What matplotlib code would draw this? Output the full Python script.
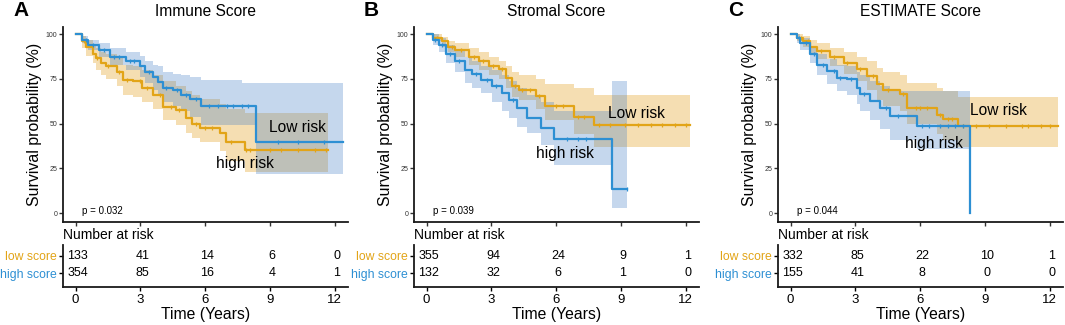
import numpy as np
import matplotlib
matplotlib.use("Agg")
import matplotlib.pyplot as plt

plt.rcParams['font.family'] = ['Liberation Sans', 'DejaVu Sans']

# ---- data ----
titles = ['Immune Score', 'Stromal Score', 'ESTIMATE Score']
letters = ['A', 'B', 'C']
p_values = ['p = 0.032', 'p = 0.039', 'p = 0.044']
risk_times = [0, 3, 6, 9, 12]
row_names = ['low score', 'high score']

# panel A
a_org_t = [0, 0.3, 0.5, 0.8, 0.96, 1.2, 1.4, 1.9, 2.2, 2.66, 3.1, 3.6, 4.05, 4.66, 5.1, 5.4, 5.75, 6.67, 6.98, 7.83]
a_org_s = [100, 96, 93, 89, 86.6, 84, 82, 79, 74.5, 73.6, 70, 66, 59.6, 57.7, 53, 50, 47.5, 44.7, 39.5, 35.4]
a_org_hi = [100, 99, 97, 94, 92, 90, 89, 87, 83, 82, 80, 77, 74, 71, 68, 66, 64, 61, 58, 56]
a_org_lo = [100, 92, 88, 84, 80, 77, 75, 71, 66, 65, 62, 58, 52, 49, 45, 42, 40, 35, 29, 23]
a_org_end = 11.7
a_org_cens = [0.4, 1.0, 1.5, 2.0, 2.4, 3.0, 3.3, 3.9, 4.4, 4.8, 5.6, 6.0, 6.3, 7.2, 7.9, 8.1, 9.0, 9.5, 10.3, 11.1, 11.6]

a_blu_t = [0, 0.3, 0.6, 1.1, 1.6, 2.35, 2.97, 3.2, 3.58, 3.8, 4.05, 4.5, 4.9, 5.3, 5.8, 7.7, 8.34]
a_blu_s = [100, 97, 94, 91, 87.5, 85, 82, 79, 76, 73.5, 70, 69, 66, 64, 60, 60, 40]
a_blu_hi = [100, 99, 97, 95, 92, 90, 88, 85, 83, 82, 79, 78, 77, 76, 74.5, 73, 73]
a_blu_lo = [100, 95, 91, 87, 83, 80, 76, 73, 69, 66, 62, 60, 57, 54, 49, 49, 22]
a_blu_end = 12.4
a_blu_cens = [0.5, 0.8, 1.3, 1.8, 2.0, 2.5, 2.7, 3.4, 4.2, 4.7, 5.1, 5.6, 6.2, 6.6, 7.0, 7.3, 7.7, 8.0, 9.4, 10.3, 11.5]

a_low_risk = [133, 41, 14, 6, 0]
a_high_risk = [354, 85, 16, 4, 1]

# panel B
b_org_t = [0, 0.3, 0.73, 1.0, 1.34, 1.96, 2.42, 2.9, 3.35, 3.66, 3.97, 4.28, 5.05, 5.5, 6.83, 7.75]
b_org_s = [100, 98, 96, 93, 91, 87.5, 85, 82, 80.4, 75.4, 71, 69, 65.7, 60, 54, 49]
b_org_hi = [100, 100, 98.5, 96, 95, 92, 90, 87, 85, 82, 79, 77, 75, 72, 70, 66]
b_org_lo = [100, 96, 93, 90, 87, 83, 80, 77, 75, 70, 65, 63, 58, 52, 44, 37]
b_org_end = 12.2
b_org_cens = [0.5, 1.2, 1.6, 2.2, 2.6, 3.1, 3.5, 4.1, 4.4, 4.8, 5.2, 6.0, 6.3, 7.0, 7.3, 8.0, 8.5, 9.2, 9.8, 10.4, 10.9, 11.5, 12.0]

b_blu_t = [0, 0.3, 0.57, 0.88, 1.34, 1.8, 2.1, 2.5, 3.04, 3.5, 3.8, 4.2, 4.67, 5.3, 5.9, 8.6]
b_blu_s = [100, 97, 94, 89, 85, 80, 77.6, 74.5, 70.8, 67, 63.3, 58.7, 53, 47.5, 41.3, 13.4]
b_blu_hi = [100, 100, 98, 94, 91, 87, 85, 82, 80, 77, 74, 70, 66, 62, 57, 74]
b_blu_lo = [100, 94, 90, 84, 79, 73, 70, 67, 62, 57, 53, 48, 45, 38, 27, 3]
b_blu_end = 9.3
b_blu_cens = [0.4, 0.7, 1.1, 1.5, 2.3, 2.8, 3.2, 4.0, 6.5, 7.0, 7.4, 9.3]

b_low_risk = [355, 94, 24, 9, 1]
b_high_risk = [132, 32, 6, 1, 0]

# panel C
c_org_t = [0, 0.3, 0.6, 0.9, 1.23, 1.85, 2.46, 3.08, 3.54, 4.0, 4.3, 5.07, 5.38, 6.77, 7.08, 7.77]
c_org_s = [100, 98, 96, 93, 90.7, 87, 84, 80.4, 76.7, 72, 69, 66.4, 59, 55, 52.4, 48.7]
c_org_hi = [100, 100, 99, 97, 95, 92, 90, 87, 85, 81, 79, 77, 73, 70, 68, 65]
c_org_lo = [100, 96, 93, 89, 86, 82, 78, 74, 69, 63, 60, 57, 50, 44, 41, 37]
c_org_end = 12.4
c_org_cens = [0.5, 0.8, 1.4, 2.0, 2.6, 3.2, 3.8, 4.5, 5.2, 5.8, 6.0, 6.3, 6.9, 7.3, 7.5, 8.0, 8.6, 9.2, 10.0, 10.7, 11.0, 11.6, 12.0]

c_blu_t = [0, 0.3, 0.46, 0.92, 1.23, 1.7, 2.15, 2.6, 3.08, 3.23, 3.7, 4.15, 4.6, 5.85, 8.3]
c_blu_s = [100, 98, 95, 89, 83, 79.5, 75.7, 74.8, 70, 66.4, 62.7, 59, 54.3, 48.7, 0]
c_blu_hi = [100, 100, 98, 93, 89, 86, 83, 82, 79, 77, 74, 71, 68, 68, 0]
c_blu_lo = [100, 95, 91, 84, 77, 72, 68, 66, 61, 57, 52, 47, 41, 36, 0]
c_blu_end = 8.3
c_blu_cens = [0.4, 0.7, 1.1, 1.5, 2.0, 2.3, 2.8, 3.4, 4.4, 5.0, 6.1, 6.4, 6.9, 7.3, 7.6, 8.0]

c_low_risk = [332, 85, 22, 10, 1]
c_high_risk = [155, 41, 8, 0, 0]

# label positions (data coords) for the curve labels
low_lbl = [(10.3, 48), (9.7, 55.5), (9.65, 57.5)]
high_lbl = [(7.85, 28), (6.4, 33.5), (6.65, 38.8)]

panels = [
    ((a_org_t, a_org_s, a_org_hi, a_org_lo, a_org_end, a_org_cens),
     (a_blu_t, a_blu_s, a_blu_hi, a_blu_lo, a_blu_end, a_blu_cens),
     a_low_risk, a_high_risk),
    ((b_org_t, b_org_s, b_org_hi, b_org_lo, b_org_end, b_org_cens),
     (b_blu_t, b_blu_s, b_blu_hi, b_blu_lo, b_blu_end, b_blu_cens),
     b_low_risk, b_high_risk),
    ((c_org_t, c_org_s, c_org_hi, c_org_lo, c_org_end, c_org_cens),
     (c_blu_t, c_blu_s, c_blu_hi, c_blu_lo, c_blu_end, c_blu_cens),
     c_low_risk, c_high_risk),
]

ORANGE = '#E2A417'
BLUE = '#2D8FD3'
ORANGE_FILL = '#DE9402'
BLUE_FILL = '#417DC6'
SPINE = '#1a1a1a'

W, H = 1065, 325
fig = plt.figure(figsize=(W / 100, H / 100), dpi=100)


def px_rect(left, top, right, bottom):
    return [left / W, 1 - bottom / H, (right - left) / W, (bottom - top) / H]


def draw_curve(ax, curve, color, fill):
    t, s, hi, lo, end, cens = curve
    tt = list(t) + [end]
    ss = list(s) + [s[-1]]
    hh = list(hi) + [hi[-1]]
    ll = list(lo) + [lo[-1]]
    ax.fill_between(tt, ll, hh, step='post', color=fill, alpha=0.3, lw=0)
    ax.step(tt, ss, where='post', color=color, lw=1.6)
    idx = np.searchsorted(t, cens, side='right') - 1
    ax.plot(cens, np.array(s)[idx], ls='none', marker='|', ms=3.5, mew=0.9, color=color)


lefts = [63, 414, 778]
for i, (org, blu, low_r, high_r) in enumerate(panels):
    L = lefts[i]
    ax = fig.add_axes(px_rect(L, 27, L + 285, 222))
    draw_curve(ax, org, ORANGE, ORANGE_FILL)
    draw_curve(ax, blu, BLUE, BLUE_FILL)
    ax.set_xlim(-0.58, 12.62)
    ax.set_ylim(-4.9, 104)
    ax.set_xticks(risk_times)
    ax.set_xticklabels([])
    ax.set_yticks([0, 25, 50, 75, 100])
    ax.tick_params(axis='y', labelsize=5, length=3, width=1, colors='#333333', pad=1)
    ax.tick_params(axis='x', length=3, width=1, colors='#333333')
    for sp in ['top', 'right']:
        ax.spines[sp].set_visible(False)
    for sp in ['left', 'bottom']:
        ax.spines[sp].set_color(SPINE)
        ax.spines[sp].set_linewidth(1.3)
    ax.set_ylabel('Survival probability (%)', fontsize=11.4)
    ax.yaxis.set_label_coords(-0.074, 0.5)
    ax.text(0.3, 1, p_values[i], fontsize=7, va='center', ha='left')
    ax.text(*low_lbl[i], 'Low risk', fontsize=11.2, ha='center', va='center')
    ax.text(*high_lbl[i], 'high risk', fontsize=11.2, ha='center', va='center')
    ax.set_title(titles[i], fontsize=11.2, pad=8)
    fig.text((L - 50) / W, 1 - 11 / H, letters[i], fontsize=15, fontweight='bold',
             ha='left', va='center')

    # risk table
    tb = fig.add_axes(px_rect(L, 245, L + 285, 287))
    tb.set_xlim(-0.58, 12.62)
    tb.set_ylim(0, 1)
    rows_y = [0.745, 0.333]
    for yv, vals in zip(rows_y, [low_r, high_r]):
        for xv, n in zip(risk_times, vals):
            tb.text(xv + 0.09, yv, str(n), fontsize=9, ha='center', va='center')
    tb.set_yticks(rows_y)
    tb.set_yticklabels(row_names, fontsize=8.8)
    for lab, col in zip(tb.get_yticklabels(), [ORANGE, BLUE]):
        lab.set_color(col)
    tb.set_xticks(risk_times)
    tb.tick_params(axis='x', labelsize=9.5, length=3, width=1, pad=2)
    tb.tick_params(axis='y', length=3, width=1, pad=1.5)
    for sp in ['top', 'right']:
        tb.spines[sp].set_visible(False)
    for sp in ['left', 'bottom']:
        tb.spines[sp].set_color(SPINE)
        tb.spines[sp].set_linewidth(1.3)
    tb.set_xlabel('Time (Years)', fontsize=11.3, labelpad=1)
    tb.text(0, 1.24, 'Number at risk', transform=tb.transAxes, fontsize=10,
            ha='left', va='center')

fig.savefig('out.png', dpi=100)
